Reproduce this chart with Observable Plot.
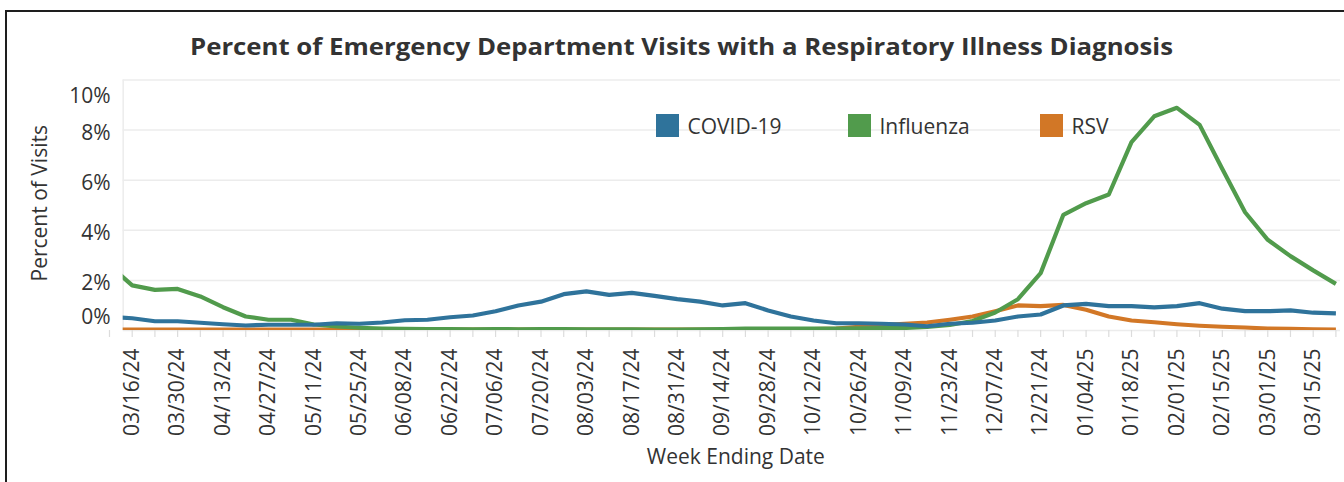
<!DOCTYPE html>
<html>
<head>
<meta charset="utf-8">
<script src="https://cdn.jsdelivr.net/npm/d3@7"></script>
<script src="https://cdn.jsdelivr.net/npm/@observablehq/plot@0.6"></script>
<style>
  body { margin: 0; background: #fff; font-family: "Open Sans", sans-serif; }
  #wrap { position: relative; width: 1344px; height: 482px; overflow: hidden; background: #fff; }
  #chart { position: absolute; left: 0; top: 0; }
  #frameTop { position: absolute; left: 5px; top: 9.5px; width: 1339px; height: 2px; background: #1e1e1e; }
  #frameLeft { position: absolute; left: 5px; top: 9.5px; width: 2px; height: 473px; background: #1e1e1e; }
  #title { position: absolute; left: 0; top: 0; }
  .item { position: absolute; top: 114px; height: 23px; display: flex; align-items: center;
          font-size: 21px; color: #333; white-space: nowrap; }
  .sw { width: 23px; height: 23px; margin-right: 8.5px; flex: none; }
</style>
</head>
<body>
<div id="wrap">
  <div id="chart"></div>
  <div id="frameTop"></div>
  <div id="frameLeft"></div>
  <svg id="title" width="1344" height="70">
    <text x="681.5" y="55" text-anchor="middle" font-family="Open Sans" font-weight="700"
          font-size="24" fill="#333" textLength="983" lengthAdjust="spacingAndGlyphs">Percent of Emergency Department Visits with a Respiratory Illness Diagnosis</text>
  </svg>
  <div id="legend"></div>
</div>
<script>
// ---- data ----
const weekEnding = [
  "2024-03-09","2024-03-16","2024-03-23","2024-03-30","2024-04-06","2024-04-13","2024-04-20","2024-04-27",
  "2024-05-04","2024-05-11","2024-05-18","2024-05-25","2024-06-01","2024-06-08","2024-06-15","2024-06-22",
  "2024-06-29","2024-07-06","2024-07-13","2024-07-20","2024-07-27","2024-08-03","2024-08-10","2024-08-17",
  "2024-08-24","2024-08-31","2024-09-07","2024-09-14","2024-09-21","2024-09-28","2024-10-05","2024-10-12",
  "2024-10-19","2024-10-26","2024-11-02","2024-11-09","2024-11-16","2024-11-23","2024-11-30","2024-12-07",
  "2024-12-14","2024-12-21","2024-12-28","2025-01-04","2025-01-11","2025-01-18","2025-01-25","2025-02-01",
  "2025-02-08","2025-02-15","2025-02-22","2025-03-01","2025-03-08","2025-03-15","2025-03-22"
];
const covid = [
  0.55,0.49,0.37,0.37,0.31,0.25,0.20,0.23,0.23,0.23,
  0.29,0.27,0.32,0.41,0.43,0.53,0.60,0.77,1.00,1.15,
  1.45,1.56,1.42,1.50,1.38,1.25,1.15,1.00,1.09,0.80,
  0.56,0.40,0.29,0.29,0.27,0.24,0.17,0.27,0.31,0.40,
  0.56,0.64,1.00,1.06,0.97,0.97,0.92,0.97,1.09,0.87,
  0.77,0.77,0.80,0.71,0.68
];
const influenza = [
  2.60,1.80,1.62,1.66,1.36,0.93,0.56,0.43,0.43,0.24,
  0.16,0.11,0.08,0.07,0.06,0.06,0.05,0.06,0.05,0.06,
  0.06,0.05,0.05,0.05,0.04,0.04,0.05,0.06,0.08,0.08,
  0.08,0.08,0.08,0.09,0.10,0.10,0.14,0.22,0.38,0.72,
  1.25,2.29,4.62,5.08,5.43,7.52,8.55,8.89,8.21,6.45,
  4.72,3.62,2.97,2.40,1.86
];
const rsv = [
  0.04,0.04,0.04,0.04,0.04,0.04,0.04,0.04,0.04,0.04,
  0.04,0.04,0.04,0.04,0.04,0.04,0.04,0.04,0.04,0.04,
  0.04,0.04,0.04,0.04,0.04,0.04,0.04,0.04,0.05,0.05,
  0.05,0.06,0.08,0.15,0.22,0.27,0.32,0.43,0.56,0.77,
  1.00,0.97,1.02,0.83,0.56,0.40,0.33,0.25,0.19,0.15,
  0.12,0.08,0.07,0.05,0.04
];
const seriesNames = ["COVID-19", "Influenza", "RSV"];
const seriesColors = ["#2f739b", "#519b4c", "#d27726"];
const yTicks = [0, 2, 4, 6, 8, 10];
// x-axis labels: every other week, starting 03/16/24
const labelWeeks = weekEnding.filter((d, i) => i % 2 === 1);

// ---- build table ----
const parse = d3.utcParse("%Y-%m-%d");
const rows = [];
const seriesValues = [covid, influenza, rsv];
// draw order: RSV below, then Influenza, then COVID-19 on top
[2, 1, 0].forEach(s => {
  weekEnding.forEach((w, i) => rows.push({date: parse(w), value: seriesValues[s][i], series: seriesNames[s]}));
});
const weekDates = weekEnding.map(parse);
const labelDates = labelWeeks.map(parse);

const gridColor = "#ececec";
const chart = Plot.plot({
  width: 1344,
  height: 482,
  marginTop: 79.5,
  marginBottom: 152,
  marginLeft: 122.7,
  marginRight: 4,
  style: {fontFamily: "Open Sans", fontSize: "21px", color: "#333", background: "transparent"},
  x: {type: "utc", domain: [new Date(Date.UTC(2024, 2, 13, 5, 25)), new Date(Date.UTC(2025, 2, 23, 10, 0))]},
  y: {domain: [0, 10]},
  color: {domain: seriesNames, range: seriesColors},
  marks: [
    Plot.gridY(yTicks.filter(d => d > 0), {stroke: gridColor, strokeOpacity: 1, strokeWidth: 1.5}),
    Plot.ruleY([0], {stroke: gridColor, strokeWidth: 1.5}),
    Plot.ruleX([new Date(Date.UTC(2024, 2, 13, 5, 25))], {stroke: gridColor, strokeWidth: 1.5}),
    Plot.axisY(yTicks.filter(d => d > 0 && d < 10), {tickSize: 0, tickPadding: 12.7, dy: 3, tickFormat: d => d + "%", label: null, fill: "#333"}),
    Plot.axisY([0], {tickSize: 0, tickPadding: 12.7, dy: -13, tickFormat: d => d + "%", label: null, fill: "#333"}),
    Plot.axisY([10], {tickSize: 0, tickPadding: 12.7, dy: 16, tickFormat: d => d + "%", label: null, fill: "#333"}),
    Plot.axisX(weekDates, {tickSize: 7, tickPadding: 0, tickFormat: () => "", stroke: "#dcdcdc", strokeWidth: 1.2, label: null}),
    Plot.axisX(labelDates, {tickSize: 0, tickPadding: 18, tickRotate: -90, tickFormat: d3.utcFormat("%m/%d/%y"), label: null, fill: "#333", fontSize: 21}),
    Plot.text(["Percent of Visits"], {text: d => d, frameAnchor: "left", textAnchor: "middle", lineAnchor: "middle", dx: -83, dy: -2, rotate: -90, fontSize: 21, fill: "#333"}),
    Plot.text(["Week Ending Date"], {text: d => d, frameAnchor: "bottom", textAnchor: "middle", lineAnchor: "middle", dx: 4, dy: 127, fontSize: 21, fill: "#333"}),
    Plot.line(rows, {x: "date", y: "value", z: "series", stroke: "series", strokeWidth: 4.2, strokeLinejoin: "round", strokeLinecap: "butt", clip: true})
  ]
});
document.getElementById("chart").appendChild(chart);

// ---- legend ----
const legendLeft = [656, 848, 1040];
const legend = document.getElementById("legend");
seriesNames.forEach((name, i) => {
  const item = document.createElement("div");
  item.className = "item";
  item.style.left = legendLeft[i] + "px";
  item.innerHTML = `<span class="sw" style="background:${seriesColors[i]}"></span><span>${name}</span>`;
  legend.appendChild(item);
});
</script>
</body>
</html>
